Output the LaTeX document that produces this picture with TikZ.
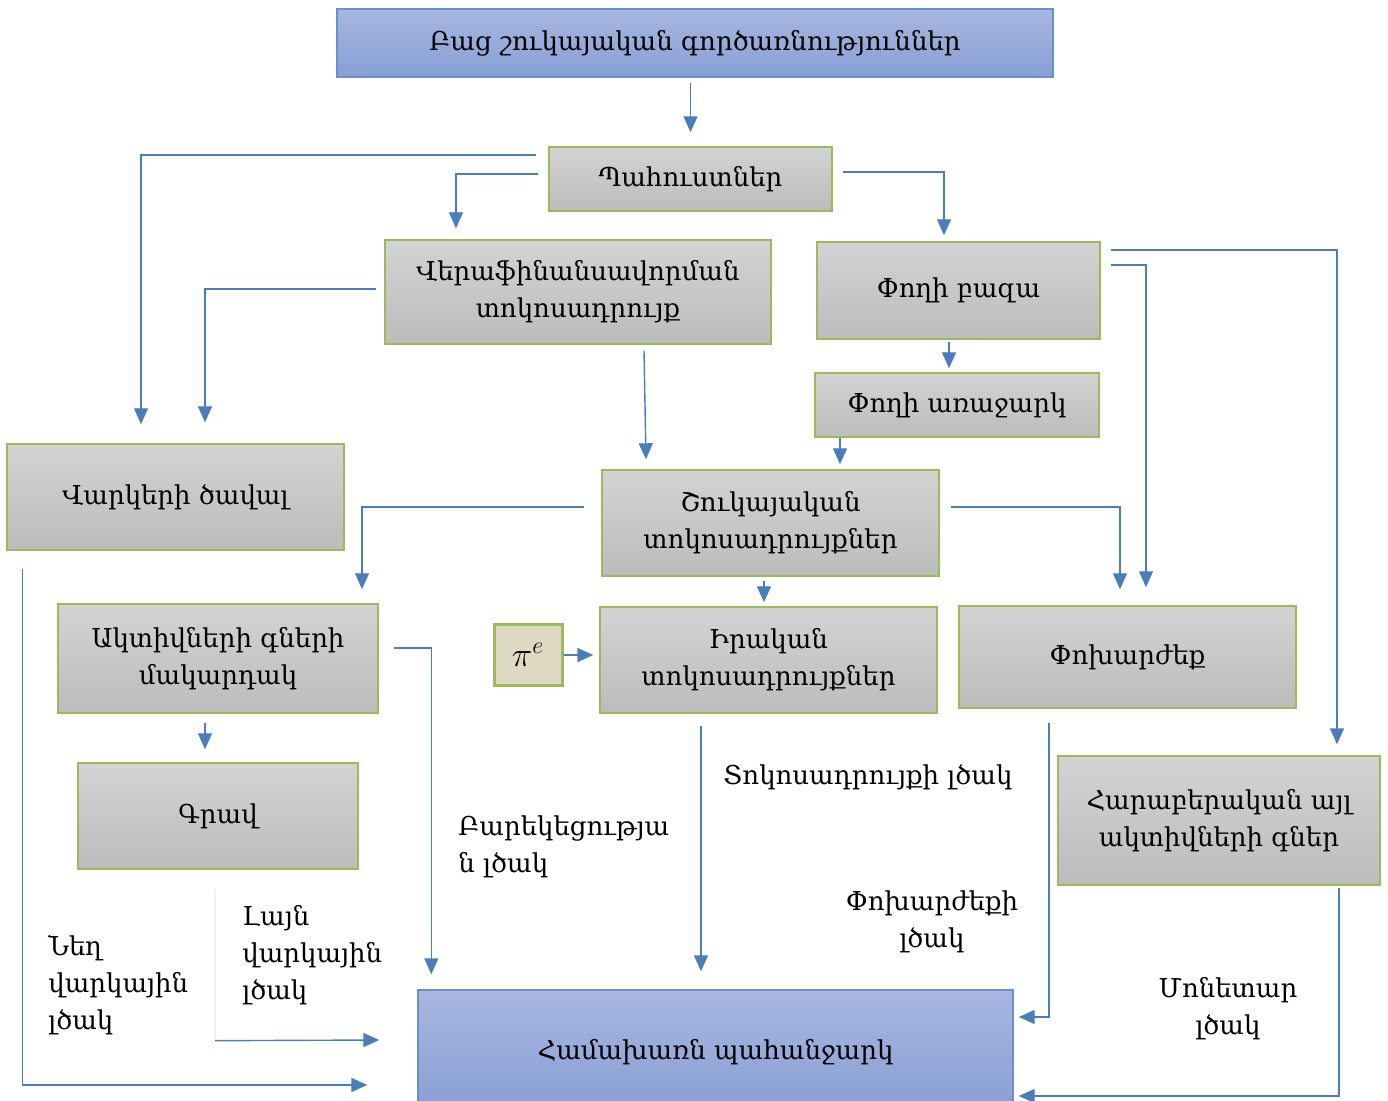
\documentclass[tikz,border=0pt]{standalone}
\usepackage{fontspec}
\setmainfont{DejaVu Serif}
\usetikzlibrary{arrows.meta,calc}
\definecolor{kanach}{HTML}{9BBB59}
\definecolor{moxr1}{HTML}{D3D3D3}
\definecolor{moxr2}{HTML}{BCBCBC}
\definecolor{kap1}{HTML}{A8B7E0}
\definecolor{kap2}{HTML}{879ED4}
\definecolor{kapezr}{HTML}{6A8FCE}
\definecolor{slaqguyn}{HTML}{4A7EBB}
\definecolor{bej}{HTML}{DDD9C3}
\newcommand*{\tarer}{\fontsize{13}{18.5}\selectfont}
\tikzset{
    %Define style for gray boxes
    tup/.style={
           rectangle,
           draw=kanach, line width=0.7pt,
           top color=moxr1, bottom color=moxr2,
           align=center, inner sep=2pt,
           font=\tarer},
    %Define style for blue boxes
    kaptup/.style={
           tup,
           draw=kapezr,
           top color=kap1, bottom color=kap2},
    % Define arrow style
    slaq/.style={
           -{Triangle[length=8pt,width=7pt]},
           draw=slaqguyn,
           line width=0.7pt},
    % Free text
    lcak/.style={inner sep=0pt, font=\tarer}
}

\begin{document}
\begin{tikzpicture}[x=0.5pt,y=-0.5pt]
\clip (0,0) rectangle (1388,1101);
% First place the boxes, top to bottom
\node[kaptup, minimum width=358pt, minimum height=34pt] (bac) at (695,43) {Բաց շուկայական գործառնություններ};
\node[tup, minimum width=141.5pt, minimum height=32pt] (pah) at (690.5,179) {Պահուստներ};
\node[tup, minimum width=193pt, minimum height=52pt] (ver) at (578,292) {Վերաֆինանսավորման\\տոկոսադրույք};
\node[tup, minimum width=141.5pt, minimum height=48.5pt] (pbaz) at (958.5,290.5) {Փողի բազա};
\node[tup, minimum width=142pt, minimum height=32pt] (parj) at (957,405) {Փողի առաջարկ};
\node[tup, minimum width=168.5pt, minimum height=53pt] (vark) at (175.5,497) {Վարկերի ծավալ};
\node[tup, minimum width=168.5pt, minimum height=53pt] (shuk) at (770.5,523) {Շուկայական\\տոկոսադրույքներ};
\node[tup, minimum width=160pt, minimum height=54.5pt] (akt) at (218,658.5) {Ակտիվների գների\\մակարդակ};
\node[tup, top color=bej, bottom color=bej, line width=1.5pt, minimum width=34pt, minimum height=30pt, font=\fontsize{17}{20}\selectfont] (pie) at (528,655) {$\pi^e$};
\node[tup, minimum width=168.5pt, minimum height=53pt] (irak) at (768.5,660) {Իրական\\տոկոսադրույքներ};
\node[tup, minimum width=168.5pt, minimum height=51pt] (pox) at (1127.5,657) {Փոխարժեք};
\node[tup, minimum width=140pt, minimum height=53pt] (grav) at (218,816) {Գրավ};
\node[tup, minimum width=161pt, minimum height=64.5pt] (har) at (1219,820.5) {Հարաբերական այլ\\ակտիվների գներ};
\node[kaptup, minimum width=297.5pt, minimum height=62.5pt] (ham) at (715.5,1052.5) {Համախառն պահանջարկ};

% Labels of the levers
\node[lcak, anchor=west, align=left] (bark) at (458,847) {Բարեկեցությա\\ն լծակ};
\node[lcak, anchor=west] (tokl) at (723,777) {Տոկոսադրույքի լծակ};
\node[lcak, align=center] (poxl) at (932,922) {Փոխարժեքի\\լծակ};
\node[lcak, align=center] (monl) at (1228,1009) {Մոնետար\\լծակ};
\node[lcak, anchor=west, align=left] (neghl) at (48,985) {Նեղ\\վարկային\\լծակ};
\node[lcak, anchor=west, align=left] (laynl) at (242,955) {Լայն\\վարկային\\լծակ};

% Now connect the nodes
\draw[slaq] ($(pah.north)+(0,-63)$) -- ($(pah.north)+(0,-14)$);
\draw[slaq] ($(pah.west)+(-12,-24)$) -| ($(vark.north)+(-34.5,-19)$);
\draw[slaq] ($(pah.west)+(-10,-5)$) -| ($(ver.north)+(-122,-11)$);
\draw[slaq] ($(pah.east)+(10,-7)$) -| ($(pbaz.north)+(-14.5,-6)$);
\draw[slaq] ($(ver.west)+(-8,-3)$) -| ($(vark.north)+(29.5,-21)$);
\draw[slaq] ($(ver.south)+(66,6)$) -- ($(shuk.north)+(-124.5,-10)$);
\draw[slaq] ($(pbaz.south)+(-9.5,2)$) -- ($(parj.north)+(-8,-4)$);
\draw[slaq] ($(pbaz.east)+(10,-40.5)$) -| ($(har.north)+(118,-11)$);
\draw[slaq] ($(pbaz.east)+(10,-25.5)$) -| ($(pox.north)+(18.5,-18)$);
\draw[slaq] ($(parj.south)+(-117,0)$) -- ($(shuk.north)+(69.5,-5)$);
\draw[slaq] ($(shuk.west)+(-17,-16)$) -| ($(akt.north)+(144,-14)$);
\draw[slaq] ($(shuk.east)+(11,-16)$) -| ($(pox.north)+(-7.5,-16)$);
\draw[slaq] ($(shuk.south)+(-6.5,4)$) -- ($(irak.north)+(-4.5,-4)$);
\draw[slaq, shorten >=3pt] (pie.east) -- (pie.east -| irak.west);
\draw[slaq] ($(akt.east)+(15,-10.5)$) -| ($(ham.north west)+(14,-15)$);
\draw[slaq] ($(akt.south)+(-13,9)$) -- ($(grav.north)+(-13,-13)$);
\draw[slaq] ($(vark.south west)+(16,18)$) |- ($(ham.west)+(-50,32.5)$);
\coordinate (anc) at ($(grav.south)+(-3,171)$);
\draw[draw=black!6, line width=0.6pt] ($(grav.south)+(-3,19)$) -- (anc);
\draw[slaq] (anc) -- ($(ham.west)+(-38,-12.5)$);
\draw[slaq] ($(irak.south)+(-67.5,12)$) -- ($(ham.north)+(-14.5,-18)$);
\draw[slaq] ($(pox.south)+(-78.5,14)$) |- ($(ham.east)+(5,-35.5)$);
\draw[slaq] ($(har.south)+(120,2)$) |- ($(ham.east)+(5,43.5)$);
\end{tikzpicture}
\end{document}
